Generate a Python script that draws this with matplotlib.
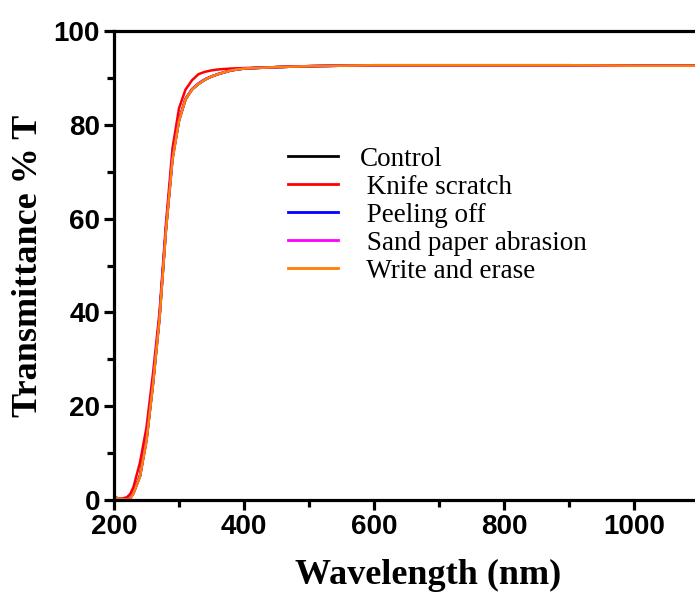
import numpy as np
import matplotlib
matplotlib.use("Agg")
import matplotlib.pyplot as plt
from matplotlib.ticker import MultipleLocator

# wavelength (nm)
wl = [200, 210, 220, 225, 230, 240, 250, 260, 270, 280, 290, 300, 310, 320, 330,
      340, 350, 360, 380, 400, 450, 500, 600, 700, 800, 900, 1000, 1100]

control = [0.6, 0.2, 0.1, 0.4, 1.5, 5.2, 13, 25, 39, 58, 73, 81, 85.5, 87.6, 88.8,
           89.7, 90.3, 90.8, 91.6, 92.0, 92.3, 92.5, 92.7, 92.7, 92.7, 92.7, 92.6, 92.6]
knife = [0.5, 0.2, 0.6, 1.3, 2.8, 8, 15.5, 27, 40, 59, 75, 83.5, 87.5, 89.5, 90.8,
         91.3, 91.6, 91.8, 92.0, 92.1, 92.3, 92.5, 92.7, 92.7, 92.7, 92.7, 92.6, 92.6]
peeling = [0.6, 0.2, 0.1, 0.4, 1.5, 5.1, 12.8, 24.8, 38.8, 57.8, 72.8, 80.9, 85.4, 87.5, 88.7,
           89.6, 90.3, 90.8, 91.6, 92.0, 92.3, 92.5, 92.7, 92.7, 92.7, 92.7, 92.6, 92.6]
sand = [0.6, 0.2, 0.1, 0.4, 1.5, 5.1, 12.9, 24.9, 38.9, 57.9, 72.9, 81.0, 85.5, 87.6, 88.8,
        89.7, 90.3, 90.8, 91.6, 92.0, 92.3, 92.5, 92.7, 92.7, 92.7, 92.7, 92.6, 92.6]
write = [0.6, 0.2, 0.1, 0.3, 1.4, 5.0, 12.5, 24.5, 38.5, 57.5, 72.5, 80.8, 85.4, 87.5, 88.7,
         89.6, 90.3, 90.8, 91.6, 92.0, 92.3, 92.5, 92.7, 92.7, 92.7, 92.7, 92.6, 92.6]

labels = ["Control", " Knife scratch", " Peeling off", " Sand paper abrasion", " Write and erase"]
colors = ["black", "#ff0000", "#0000ff", "#ff00ff", "#ff7f00"]

fig = plt.figure(figsize=(6.95, 5.99), dpi=100)
ax = fig.add_axes([114 / 695, 1 - 500 / 599, 585 / 695, 469 / 599])

for y, lab, c in zip([control, knife, peeling, sand, write], labels, colors):
    ax.plot(wl, y, color=c, lw=1.8, label=lab)

ax.set_xlim(200, 1100)
ax.set_ylim(0, 100)

ax.xaxis.set_major_locator(MultipleLocator(200))
ax.xaxis.set_minor_locator(MultipleLocator(100))
ax.yaxis.set_major_locator(MultipleLocator(20))
ax.yaxis.set_minor_locator(MultipleLocator(10))

for s in ["left", "bottom", "top"]:
    ax.spines[s].set_linewidth(2.3)
ax.spines["right"].set_visible(False)

ax.tick_params(which="major", direction="out", length=7, width=2.3,
               labelsize=20, pad=3)
ax.tick_params(which="minor", direction="out", length=5, width=2.3)
for t in ax.get_xticklabels() + ax.get_yticklabels():
    t.set_fontweight("bold")
    t.set_family("Liberation Sans")

ax.set_xlabel("Wavelength (nm)", family="Liberation Serif", fontweight="bold",
              fontsize=26)
ax.xaxis.set_label_coords(0.537, -0.125)
ax.set_ylabel("Transmittance % T", family="Liberation Serif", fontweight="bold",
              fontsize=26, labelpad=6)

leg = ax.legend(loc="upper left", bbox_to_anchor=(0.297, 0.753), frameon=False,
                prop={"family": "Liberation Serif", "size": 19.5},
                handlelength=1.85, handletextpad=0.8, labelspacing=0.11,
                borderpad=0, borderaxespad=0)
for line in leg.get_lines():
    line.set_linewidth(2.0)

fig.savefig("out.png", dpi=100)
